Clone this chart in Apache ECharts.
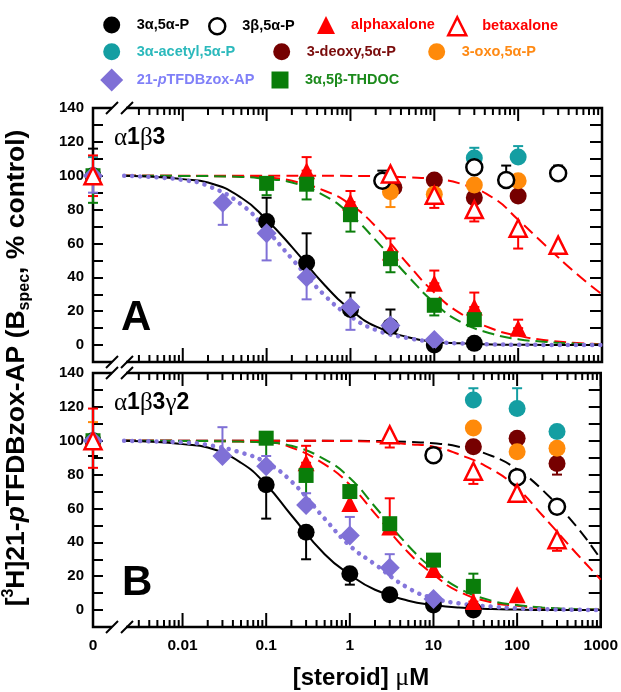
<!DOCTYPE html>
<html>
<head>
<meta charset="utf-8">
<script src="https://cdn.jsdelivr.net/npm/echarts@6/dist/echarts.min.js"></script>
<style>
  html, body { margin: 0; padding: 0; background: #fff; }
  #chart { width: 621px; height: 692px; }
</style>
</head>
<body>
<div id="chart"></div>
<script>
// concentration 0 (control) is drawn at the left end of the broken log axis
const X_MIN = 0.00085;
const X_MAX = 1000;

// ---- panel A: alpha1beta3 ----  [conc uM, % control]
const a_3a5aP = [[0, 100], [0.1, 73], [0.3, 48.5], [1, 21], [3, 11], [10, 0], [30, 1]];
const a_3a5aP_err = [[0, 100, 116], [0.1, 73, 87], [0.3, 48.5, 66], [1, 21, 31], [3, 11, 21]];
const a_3b5aP = [[2.4, 97], [30, 105], [72, 97.5], [300, 101.5]];
const a_3b5aP_err = [[2.4, 97, 103], [30, 105, 111], [72, 97.5, 106], [300, 101.5, 106]];
const a_alphax = [[0, 100], [0.3, 103], [1, 84.5], [3, 55], [10, 36.5], [30, 22.5], [100, 10]];
const a_alphax_err = [[0, 88, 112], [0.3, 103, 111], [1, 84.5, 91], [3, 55, 63], [10, 36.5, 44], [30, 22.5, 31], [100, 10, 15]];
const a_betax = [[0, 100], [3, 101], [10, 88.5], [30, 80], [100, 69], [300, 59]];
const a_betax_err = [[3, 90, 101], [10, 81, 88.5], [30, 73, 80], [100, 57, 69], [300, 54, 59]];
const a_acetyl = [[30, 110.5], [100, 111]];
const a_acetyl_err = [[0, 100, 111], [30, 110.5, 116.5], [100, 111, 117.5]];
const a_deoxy = [[3.3, 93], [10, 97.5], [30, 87], [100, 88]];
const a_deoxy_err = [];
const a_oxo = [[3, 90.5], [10, 89], [30, 94.5], [100, 97]];
const a_oxo_err = [[3, 81.5, 90.5], [100, 90, 97]];
const a_pTFDB = [[0, 100], [0.03, 84], [0.1, 66], [0.3, 40], [1, 22.5], [3, 11.5], [10, 3]];
const a_pTFDB_err = [[0, 90, 100], [0.03, 71, 84], [0.1, 50, 66], [0.3, 27, 40], [1, 9, 22.5]];
const a_thdoc = [[0, 100], [0.1, 95.5], [0.3, 95], [1, 77], [3, 51], [10, 23.5], [30, 15]];
const a_thdoc_err = [[0, 84, 100], [0.1, 88.5, 95.5], [0.3, 86, 95], [1, 67, 77], [3, 43, 51], [10, 17.5, 23.5]];

// fitted curves
const fitA_3a5aP = [[0.002, 100], [0.005, 99.3], [0.01, 98], [0.02, 96], [0.05, 87], [0.1, 74], [0.2, 58], [0.5, 35], [1, 21], [2, 11], [5, 4.5], [10, 2], [20, 1], [50, 0.4], [100, 0.2], [200, 0.1], [1000, 0]];
const fitA_pTFDB = [[0.002, 100], [0.005, 99], [0.01, 97.5], [0.02, 94], [0.05, 83], [0.1, 68], [0.2, 51], [0.5, 29], [1, 17], [2, 9], [5, 4], [10, 2], [20, 1], [50, 0.4], [100, 0.2], [200, 0.1], [1000, 0]];
const fitA_alphax = [[0.002, 100], [0.01, 99.9], [0.05, 99.5], [0.1, 99], [0.2, 97], [0.5, 91], [1, 83], [2, 70], [5, 47], [10, 31], [20, 19], [50, 9.5], [100, 5.5], [200, 3], [500, 1.2], [1000, 0.7]];
const fitA_thdoc = [[0.002, 100], [0.01, 99.9], [0.05, 99.3], [0.1, 98], [0.2, 96], [0.5, 88], [1, 77], [2, 62], [5, 40], [10, 25], [20, 14], [50, 6.5], [100, 3.5], [200, 2], [500, 0.8], [1000, 0.4]];
const fitA_betax = [[0.002, 100], [0.1, 100], [1, 99.9], [2, 99.7], [5, 99], [10, 98], [20, 95.5], [50, 87], [100, 74], [200, 60], [500, 42], [1000, 30]];

// ---- panel B: alpha1beta3gamma2 ----
const b_3a5aP = [[0, 100], [0.1, 74], [0.3, 46], [1, 21.5], [3, 9], [10, 3], [30, 0]];
const b_3a5aP_err = [[0, 91, 100], [0.1, 54, 74], [0.3, 30, 46], [1, 15, 21.5]];
const b_3b5aP = [[10, 91.5], [100, 78.5], [300, 61]];
const b_3b5aP_err = [];
const b_alphax = [[0, 100], [0.3, 87], [1, 63], [3, 49], [10, 24], [30, 5], [100, 9]];
const b_alphax_err = [[0, 84, 119], [0.3, 87, 97], [3, 49, 66], [30, 5, 12]];
const b_betax = [[0, 100], [3, 103.5], [30, 82], [100, 69], [300, 41.5]];
const b_betax_err = [[3, 96, 103.5], [30, 74.5, 82], [100, 64, 69], [300, 35, 41.5]];
const b_acetyl = [[30, 124], [100, 119], [300, 105.5]];
const b_acetyl_err = [[30, 124, 131], [100, 119, 131]];
const b_deoxy = [[30, 96.5], [100, 101.5], [300, 86.5]];
const b_deoxy_err = [[300, 80, 86.5]];
const b_oxo = [[30, 107.5], [100, 93.5], [300, 95.5]];
const b_oxo_err = [[0, 100, 111]];
const b_pTFDB = [[0, 100], [0.03, 91], [0.1, 85], [0.3, 62], [1, 44], [3, 25], [10, 6.5]];
const b_pTFDB_err = [[0.03, 91, 108], [0.1, 85, 91], [0.3, 62, 69], [1, 44, 55], [3, 25, 33]];
const b_thdoc = [[0, 100], [0.1, 101.5], [0.3, 79.5], [1, 70], [3, 51], [10, 29.5], [30, 14]];
const b_thdoc_err = [[0.1, 87.5, 101.5], [0.3, 63, 79.5], [30, 14, 21.5]];

const fitB_3a5aP = [[0.002, 100], [0.005, 99.3], [0.01, 98], [0.02, 96], [0.05, 87], [0.1, 74], [0.2, 56], [0.5, 33], [1, 21], [2, 12], [5, 5.5], [10, 3], [20, 1.5], [50, 0.6], [100, 0.3], [200, 0.1], [1000, 0]];
const fitB_pTFDB = [[0.002, 100], [0.005, 99.5], [0.01, 99], [0.02, 97.5], [0.05, 93], [0.1, 87], [0.2, 76], [0.5, 54], [1, 38], [2, 27], [5, 13], [10, 7], [20, 4], [50, 2], [100, 1], [200, 0.5], [1000, 0]];
const fitB_alphax = [[0.002, 100], [0.01, 99.9], [0.05, 99.5], [0.1, 99], [0.2, 96], [0.5, 86], [1, 74], [2, 57], [5, 34], [10, 21], [20, 11], [50, 4.5], [100, 2.5], [200, 1.2], [500, 0.5], [1000, 0.3]];
const fitB_thdoc = [[0.002, 100], [0.01, 99.9], [0.05, 99.5], [0.1, 99], [0.2, 97], [0.5, 89], [1, 78], [2, 61], [5, 38], [10, 24], [20, 13], [50, 5.5], [100, 3], [200, 1.5], [500, 0.6], [1000, 0.3]];
const fitB_3b5aP = [[0.002, 100], [0.1, 100], [1, 100], [2, 99.8], [5, 99.3], [10, 98.5], [20, 96.5], [50, 91], [100, 83], [200, 71], [500, 50], [1000, 30]];
const fitB_betax = [[0.002, 100], [0.1, 100], [1, 99.8], [2, 99.5], [5, 98], [10, 96.5], [20, 92], [50, 83], [100, 72], [200, 56], [500, 34], [1000, 18]];

const yTicks = { min: -10, max: 140, step: 10 };

// ---------------------------------------------------------------
const FONT = "'Liberation Sans', Arial, Helvetica, sans-serif";
const SERIF = "'Liberation Serif', 'Times New Roman', serif";

const grids = [
  { left: 93, top: 108, width: 509, height: 254 },
  { left: 93, top: 373, width: 509, height: 254 }
];

// drawing order = stacking order
const styles = [
  { name: '3-deoxy,5α-P', symbol: 'circle', size: 17, fill: '#760000', text: '#7a0c0c', A: [a_deoxy, a_deoxy_err], B: [b_deoxy, b_deoxy_err] },
  { name: '3α-acetyl,5α-P', symbol: 'circle', size: 17, fill: '#149ea2', text: '#2bb9bc', A: [a_acetyl, a_acetyl_err], B: [b_acetyl, b_acetyl_err] },
  { name: '3-oxo,5α-P', symbol: 'circle', size: 17, fill: '#ff8a0a', text: '#ff8a14', A: [a_oxo, a_oxo_err], B: [b_oxo, b_oxo_err] },
  { name: '3β,5α-P', symbol: 'circle', size: 16, fill: '#fff', stroke: '#000', text: '#000', A: [a_3b5aP, a_3b5aP_err], B: [b_3b5aP, b_3b5aP_err] },
  { name: '3α,5α-P', symbol: 'circle', size: 17, fill: '#000', text: '#000', A: [a_3a5aP, a_3a5aP_err], B: [b_3a5aP, b_3a5aP_err] },
  { name: 'alphaxalone', symbol: 'triangle', size: 17, fill: '#ff0000', text: '#ff0000', A: [a_alphax, a_alphax_err], B: [b_alphax, b_alphax_err] },
  { name: '3α,5β-THDOC', symbol: 'rect', size: 15, fill: '#0a7d0a', text: '#1c8a1c', A: [a_thdoc, a_thdoc_err], B: [b_thdoc, b_thdoc_err] },
  { name: '21-pTFDBzox-AP', symbol: 'diamond', size: 20, fill: '#7f70d6', text: '#8080f8', A: [a_pTFDB, a_pTFDB_err], B: [b_pTFDB, b_pTFDB_err] },
  { name: 'betaxalone', symbol: 'triangle', size: 17, fill: '#fff', stroke: '#ff0000', text: '#ff0000', A: [a_betax, a_betax_err], B: [b_betax, b_betax_err] }
];

const curves = [
  { gi: 0, data: fitA_betax, color: '#ff0000', kind: 'dashed' },
  { gi: 0, data: fitA_alphax, color: '#ff0000', kind: 'dashed' },
  { gi: 0, data: fitA_thdoc, color: '#138a13', kind: 'dashed' },
  { gi: 0, data: fitA_3a5aP, color: '#000', kind: 'solid' },
  { gi: 0, data: fitA_pTFDB, color: '#8576dc', kind: 'dotted' },
  { gi: 1, data: fitB_3b5aP, color: '#000', kind: 'dashed' },
  { gi: 1, data: fitB_betax, color: '#ff0000', kind: 'dashed' },
  { gi: 1, data: fitB_alphax, color: '#ff0000', kind: 'dashed' },
  { gi: 1, data: fitB_thdoc, color: '#138a13', kind: 'dashed' },
  { gi: 1, data: fitB_3a5aP, color: '#000', kind: 'solid' },
  { gi: 1, data: fitB_pTFDB, color: '#8576dc', kind: 'dotted' }
];

// legend icon centre (cx, cy) and icon size
const legendPos = [
  { name: '3α,5α-P', cx: 111.7, cy: 25, icon: 17 },
  { name: '3β,5α-P', cx: 216, cy: 25, icon: 16 },
  { name: 'alphaxalone', cx: 326, cy: 25, icon: 18 },
  { name: 'betaxalone', cx: 456, cy: 25, icon: 18 },
  { name: '3α-acetyl,5α-P', cx: 111.7, cy: 51.7, icon: 17 },
  { name: '3-deoxy,5α-P', cx: 281.7, cy: 51.7, icon: 17 },
  { name: '3-oxo,5α-P', cx: 436.7, cy: 51.7, icon: 17 },
  { name: '21-pTFDBzox-AP', cx: 111.7, cy: 80, icon: 23 },
  { name: '3α,5β-THDOC', cx: 280, cy: 80, icon: 17 }
];

// decade + minor tick positions of the log axis (right of the break)
const xTickList = [];
[0.001, 0.01, 0.1, 1, 10, 100].forEach(function (d) {
  for (let k = 1; k <= 9; k++) {
    const v = +(d * k).toPrecision(3);
    if (v >= 0.0029) xTickList.push([v, k === 1 ? 1 : 0]);
  }
});
xTickList.push([1000, 1]);

function atX(arr) {
  return arr.map(function (p) { return [p[0] === 0 ? X_MIN : p[0]].concat(p.slice(1)); });
}

function errRender(color) {
  return function (params, api) {
    const x = api.value(0);
    const a = api.coord([x, api.value(1)]);
    const b = api.coord([x, api.value(2)]);
    const st = { stroke: color, lineWidth: 2 };
    return {
      type: 'group',
      children: [
        { type: 'line', shape: { x1: a[0], y1: a[1], x2: b[0], y2: b[1] }, style: st },
        { type: 'line', shape: { x1: a[0] - 5, y1: a[1], x2: a[0] + 5, y2: a[1] }, style: st },
        { type: 'line', shape: { x1: b[0] - 5, y1: b[1], x2: b[0] + 5, y2: b[1] }, style: st }
      ]
    };
  };
}

function tickRender(params, api) {
  const x = api.value(0);
  const major = api.value(1) === 1;
  const pb = api.coord([x, yTicks.min]);
  const pt = api.coord([x, yTicks.max]);
  const st = { stroke: '#000', lineWidth: 2 };
  return {
    type: 'group',
    children: [
      { type: 'line', shape: { x1: pb[0], y1: pb[1], x2: pb[0], y2: pb[1] - (major ? 14 : 7) }, style: st },
      { type: 'line', shape: { x1: pt[0], y1: pt[1], x2: pt[0], y2: pt[1] + (major ? 13 : 7) }, style: st }
    ]
  };
}

function xLabel(v) {
  if (v < 0.0009) return '0';
  const e = Math.round(Math.log10(v));
  if (e <= -3) return '';
  return String(Number(Math.pow(10, e).toFixed(Math.max(0, -e))));
}

const xAxes = grids.map(function (g, gi) {
  return {
    type: 'log', logBase: 10, gridIndex: gi, min: X_MIN, max: X_MAX,
    axisLine: { show: false }, axisTick: { show: false }, splitLine: { show: false },
    axisLabel: {
      show: gi === 1, showMinLabel: true, showMaxLabel: true, margin: 11,
      formatter: xLabel, fontFamily: FONT, fontWeight: 'bold', fontSize: 15.5, color: '#000'
    }
  };
});

const yAxes = [];
grids.forEach(function (g, gi) {
  [false, true].forEach(function (right) {
    yAxes.push({
      type: 'value', gridIndex: gi, position: right ? 'right' : 'left',
      min: yTicks.min, max: yTicks.max, interval: yTicks.step,
      axisLine: { show: false }, splitLine: { show: false },
      axisTick: { show: true, inside: true, length: right ? 12 : 10, lineStyle: { color: '#000', width: 2 } },
      axisLabel: {
        show: !right, margin: 9,
        formatter: function (v) { return (v >= 0 && v % 20 === 0) ? String(v) : ''; },
        fontFamily: FONT, fontWeight: 'bold', fontSize: 15, color: '#000'
      }
    });
  });
});

const series = [];
curves.forEach(function (c) {
  const ls = { color: c.color, width: 2 };
  if (c.kind === 'dashed') ls.type = [12, 6];
  if (c.kind === 'dotted') { ls.type = [0.1, 8]; ls.width = 4.5; ls.cap = 'round'; }
  series.push({
    type: 'line', xAxisIndex: c.gi, yAxisIndex: c.gi * 2, data: c.data,
    smooth: 0.5, showSymbol: false, symbol: 'none',
    lineStyle: ls, silent: true, z: 1
  });
});
styles.forEach(function (s) {
  ['A', 'B'].forEach(function (panel, gi) {
    const pts = s[panel][0];
    const errs = s[panel][1];
    if (errs.length) {
      series.push({
        type: 'custom', xAxisIndex: gi, yAxisIndex: gi * 2, data: atX(errs),
        renderItem: errRender(s.stroke || s.fill), silent: true, z: 2
      });
    }
    if (pts.length) {
      series.push({
        type: 'scatter', name: s.name, xAxisIndex: gi, yAxisIndex: gi * 2, data: atX(pts),
        symbol: s.symbol, symbolSize: s.size, clip: false,
        itemStyle: s.stroke
          ? { color: '#fff', borderColor: s.stroke, borderWidth: 2.5, opacity: 1 }
          : { color: s.fill, opacity: 1 },
        z: 3
      });
    }
  });
});
grids.forEach(function (g, gi) {
  series.push({
    type: 'custom', xAxisIndex: gi, yAxisIndex: gi * 2, data: xTickList,
    renderItem: tickRender, silent: true, z: 5
  });
});

const legends = legendPos.map(function (p) {
  const s = styles.find(function (t) { return t.name === p.name; });
  const h = p.icon;
  const pad = 25 - h / 2 - 5;
  return {
    left: p.cx - h / 2, top: p.cy - h / 2, padding: 0, itemWidth: h, itemHeight: h,
    selectedMode: false,
    data: [{
      name: p.name, icon: s.symbol,
      itemStyle: s.stroke ? { color: '#fff', borderColor: s.stroke, borderWidth: 2.5 } : { color: s.fill },
      textStyle: { color: s.text }
    }],
    formatter: function (n) {
      return n === '21-pTFDBzox-AP' ? '{n|21-}{i|p}{n|TFDBzox-AP}' : n;
    },
    textStyle: {
      fontFamily: FONT, fontWeight: 'bold', fontSize: 14.5, color: s.text, padding: [0, 0, 0, pad],
      rich: {
        n: { fontFamily: FONT, fontWeight: 'bold', fontSize: 14.5, color: s.text },
        i: { fontFamily: FONT, fontWeight: 'bold', fontStyle: 'italic', fontSize: 14.5, color: s.text }
      }
    }
  };
});

function breakMark(y) {
  return [
    { type: 'rect', shape: { x: 112, y: y - 4, width: 14, height: 8 }, style: { fill: '#fff' }, z: 100 },
    { type: 'line', shape: { x1: 106, y1: y + 6, x2: 118, y2: y - 6 }, style: { stroke: '#000', lineWidth: 2 }, z: 101 },
    { type: 'line', shape: { x1: 121, y1: y + 6, x2: 133, y2: y - 6 }, style: { stroke: '#000', lineWidth: 2 }, z: 101 }
  ];
}

const graphics = [].concat(
  breakMark(108), breakMark(362), breakMark(373), breakMark(627),
  [
    {
      type: 'text', x: 17, y: 368, rotation: Math.PI / 2, z: 50,
      style: {
        text: '{a|[}{s|3}{a|H]21-}{i|p}{a|TFDBzox-AP (B}{b|spec}{a|, % control)}',
        align: 'center', verticalAlign: 'middle',
        rich: {
          a: { fontFamily: FONT, fontWeight: 'bold', fontSize: 26.5, fill: '#000', lineHeight: 32 },
          i: { fontFamily: FONT, fontWeight: 'bold', fontStyle: 'italic', fontSize: 26.5, fill: '#000', lineHeight: 32 },
          s: { fontFamily: FONT, fontWeight: 'bold', fontSize: 16, fill: '#000', verticalAlign: 'top', lineHeight: 32, padding: [0, 0, 9, 0] },
          b: { fontFamily: FONT, fontWeight: 'bold', fontSize: 16, fill: '#000', verticalAlign: 'bottom', lineHeight: 32, padding: [9, 0, 0, 0] }
        }
      }
    },
    {
      type: 'text', x: 361, y: 678, z: 50,
      style: {
        text: '{a|[steroid] }{g|μ}{a|M}', align: 'center', verticalAlign: 'middle',
        rich: {
          a: { fontFamily: FONT, fontWeight: 'bold', fontSize: 24, fill: '#000' },
          g: { fontFamily: SERIF, fontWeight: 'normal', fontSize: 26, fill: '#000' }
        }
      }
    },
    { type: 'text', x: 121, y: 318, z: 50, style: { text: 'A', fontFamily: FONT, fontWeight: 'bold', fontSize: 42, fill: '#000', verticalAlign: 'middle' } },
    { type: 'text', x: 122, y: 583, z: 50, style: { text: 'B', fontFamily: FONT, fontWeight: 'bold', fontSize: 42, fill: '#000', verticalAlign: 'middle' } },
    {
      type: 'text', x: 114, y: 138, z: 50,
      style: {
        text: '{g|α}{b|1}{g|β}{b|3}', verticalAlign: 'middle',
        rich: {
          g: { fontFamily: SERIF, fontSize: 25, fill: '#000' },
          b: { fontFamily: FONT, fontWeight: 'bold', fontSize: 23, fill: '#000' }
        }
      }
    },
    {
      type: 'text', x: 114, y: 403, z: 50,
      style: {
        text: '{g|α}{b|1}{g|β}{b|3}{g|γ}{b|2}', verticalAlign: 'middle',
        rich: {
          g: { fontFamily: SERIF, fontSize: 25, fill: '#000' },
          b: { fontFamily: FONT, fontWeight: 'bold', fontSize: 23, fill: '#000' }
        }
      }
    }
  ]
);

const chart = echarts.init(document.getElementById('chart'), null, { renderer: 'canvas' });
chart.setOption({
  backgroundColor: '#fff',
  animation: false,
  grid: grids.map(function (g) {
    return Object.assign({ show: true, borderColor: '#000', borderWidth: 2.5, backgroundColor: 'transparent', containLabel: false }, g);
  }),
  xAxis: xAxes,
  yAxis: yAxes,
  legend: legends,
  series: series,
  graphic: graphics
});
</script>
</body>
</html>
